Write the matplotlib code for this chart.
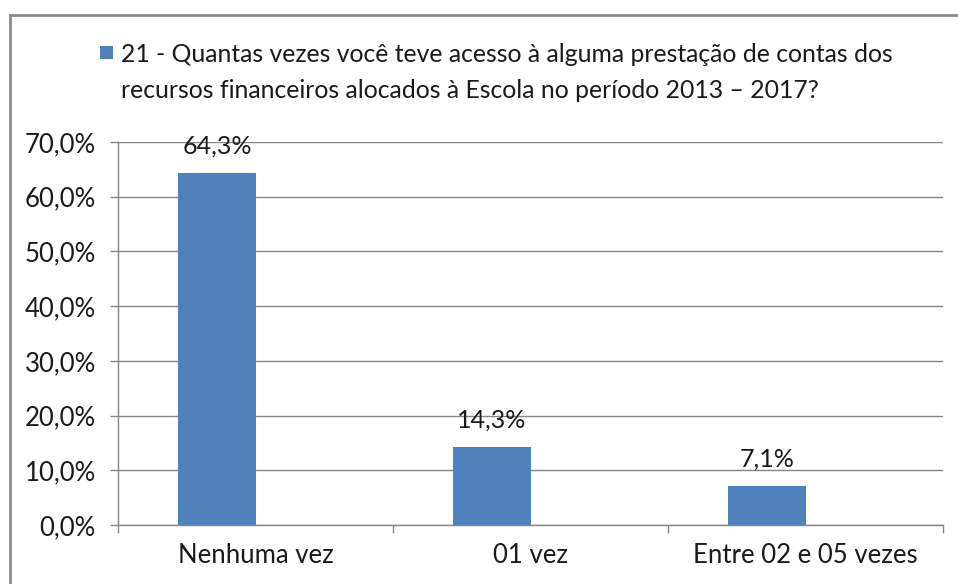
import matplotlib.pyplot as plt
from matplotlib.patches import Rectangle
from matplotlib.ticker import FuncFormatter, FixedLocator

categories = ['Nenhuma vez', '01 vez', 'Entre 02 e 05 vezes']
values = [64.3, 14.3, 7.1]
legend_lines = ['21 - Quantas vezes você teve acesso à alguma prestação de contas dos',
                'recursos financeiros alocados à Escola no período 2013 – 2017?']

plt.rcParams['font.family'] = ['Lato', 'DejaVu Sans']
blue = '#4f81bd'
grey = '#868686'
txt = '#1a1a1a'
W, H = 958, 584

fig = plt.figure(figsize=(9.58, 5.84), dpi=100)
ax = fig.add_axes([118 / W, 59 / H, 825 / W, 383 / H])

# outer chart frame (cropped on right/bottom in the reference)
fig.patches.append(Rectangle((9.5 / W, -0.1), 1.2, 1.1 - 15.5 / H,
                             transform=fig.transFigure, fill=False,
                             edgecolor='#8c8c8c', linewidth=2, clip_on=False))

x = list(range(len(categories)))
bar_w = 0.284
pos = [i - 0.14 for i in x]
bars = ax.bar(pos, values, width=bar_w, color=blue, zorder=3)

for b, v in zip(bars, values):
    ax.annotate(f'{v:.1f}%'.replace('.', ','),
                (b.get_x() + b.get_width() / 2, v),
                xytext=(0, 11), textcoords='offset points',
                ha='center', va='bottom', fontsize=18, color=txt)

ax.set_xlim(-0.5, 2.5)
ax.set_ylim(0, 70)
ax.set_yticks(range(0, 71, 10))
ax.yaxis.set_major_formatter(FuncFormatter(lambda v, p: f'{v:.1f}%'.replace('.', ',')))
ax.set_xticks(x)
ax.set_xticklabels(categories)
ax.xaxis.set_minor_locator(FixedLocator([-0.5, 0.5, 1.5, 2.5]))

ax.tick_params(axis='x', which='major', length=0, pad=13, labelsize=18.5, labelcolor=txt)
ax.tick_params(axis='x', which='minor', length=6, color=grey, width=1)
ax.tick_params(axis='y', length=6, color=grey, width=1, pad=10, labelsize=18.5, labelcolor=txt)

ax.grid(axis='y', color=grey, linewidth=1, zorder=0)
for s in ['top', 'right']:
    ax.spines[s].set_visible(False)
for s in ['left', 'bottom']:
    ax.spines[s].set_color(grey)
    ax.spines[s].set_linewidth(1)

# legend: square key + two text lines
fig.patches.append(Rectangle((100 / W, 1 - 59 / H), 13 / W, 13 / H,
                             transform=fig.transFigure, facecolor=blue,
                             edgecolor='none'))
fig.text(121 / W, 1 - 55 / H, legend_lines[0], fontsize=17.8, color=txt,
         ha='left', va='center')
fig.text(121 / W, 1 - 90 / H, legend_lines[1], fontsize=17.8, color=txt,
         ha='left', va='center')

fig.savefig('out.png', dpi=100, facecolor='white')
